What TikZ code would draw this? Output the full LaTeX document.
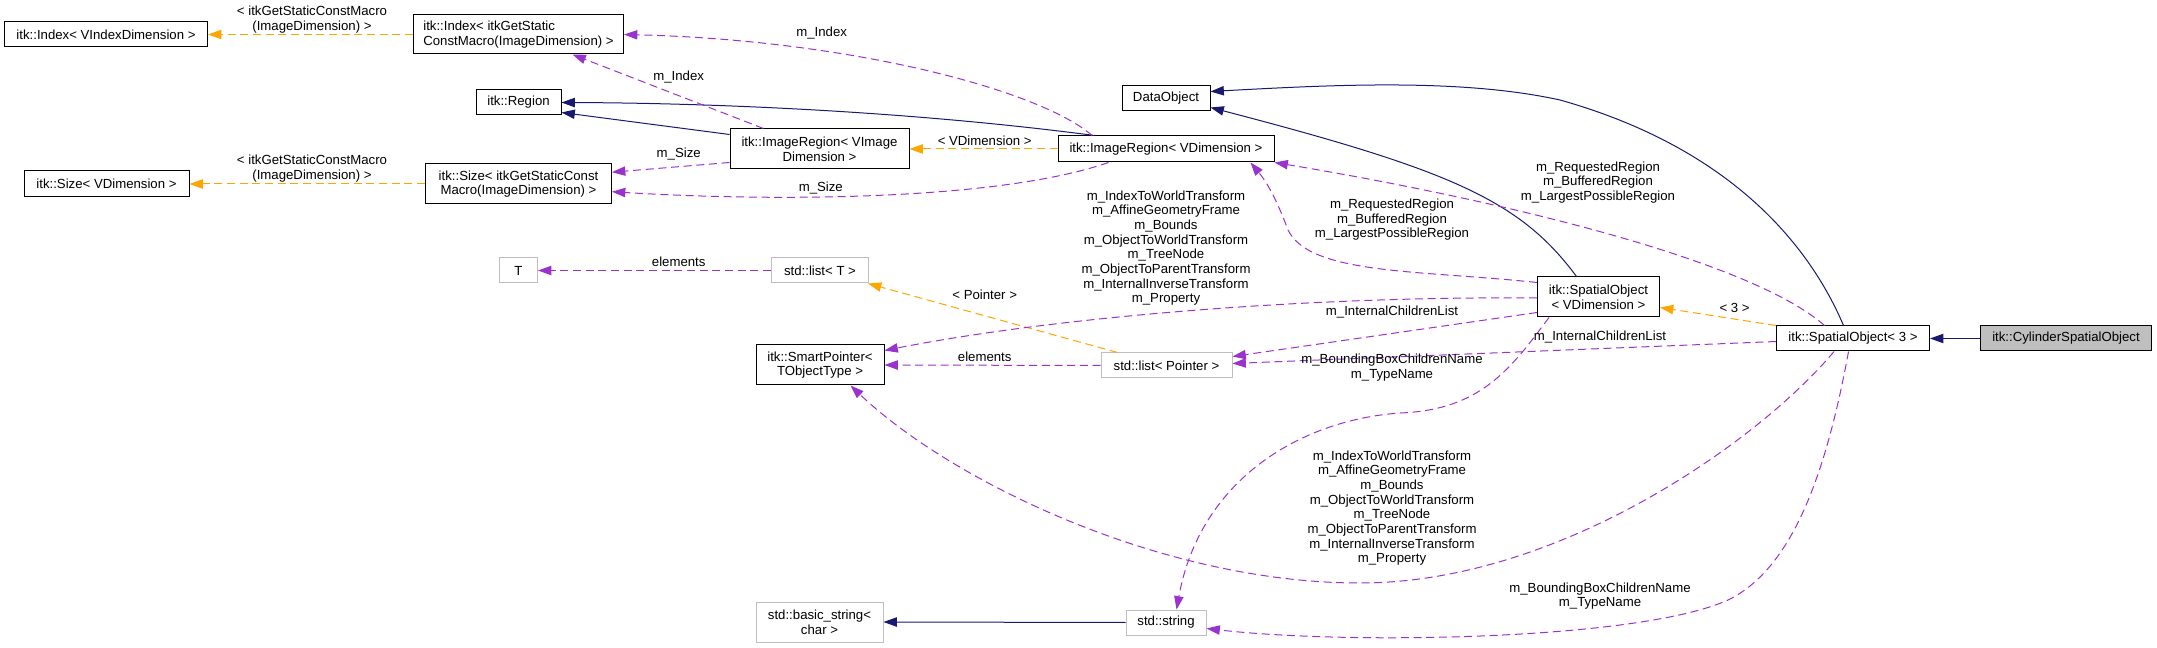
\documentclass[tikz,border=0pt]{standalone}
\usepackage{fontspec}
\setmainfont{Liberation Sans}
\usetikzlibrary{arrows.meta,calc}
\definecolor{navyc}{HTML}{191970}
\definecolor{orangec}{HTML}{FFA500}
\definecolor{purplec}{HTML}{9A32CD}
\definecolor{grayc}{HTML}{BFBFBF}
\begin{document}
\begin{tikzpicture}[x=0.75pt,y=-0.75pt,
  font=\fontsize{9.9}{11}\selectfont,
  box/.style={draw=black, line width=0.75pt, inner sep=0pt, align=center, fill=white},
  gbox/.style={box, draw=grayc},
  wh/.style 2 args={minimum width=#1*0.75pt, minimum height=#2*0.75pt},
  lbl/.style={inner sep=0pt, align=center},
  tip/.style={-{Triangle[length=10pt,width=7pt]}},
  inh/.style={draw=navyc, line width=0.75pt, tip},
  tmpl/.style={draw=orangec, line width=0.75pt, dash pattern=on 6pt off 3.5pt, tip},
  usee/.style={draw=purplec, line width=0.75pt, dash pattern=on 6pt off 3.5pt, tip}]
\useasboundingbox (0,0) rectangle (2157,648);

% nodes
\node[box, wh={203}{25}] (IdxV) at (106,34.5) {itk::Index< VIndexDimension >};
\node[box, wh={210}{39}, align=left] (IdxM) at (518.5,34.5) {itk::Index< itkGetStatic\\ConstMacro(ImageDimension) >};
\node[box, wh={85}{25}] (Region) at (518.5,102.5) {itk::Region};
\node[box, wh={165}{26}] (SizeV) at (106.5,184) {itk::Size< VDimension >};
\node[box, wh={186}{40}] (SizeM) at (518.5,184) {itk::Size< itkGetStaticConst\\Macro(ImageDimension) >};
\node[box, wh={179}{40}] (IRVI) at (819.5,149) {itk::ImageRegion< VImage\\Dimension >};
\node[box, wh={216}{26}] (IRV) at (1166,149) {itk::ImageRegion< VDimension >};
\node[box, wh={88}{25}] (DataObject) at (1166,98.5) {DataObject};
\node[gbox, wh={38}{25}] (T) at (518.5,270.5) {T};
\node[gbox, wh={97}{25}] (ListT) at (820,270.5) {std::list< T >};
\node[box, wh={128}{40}] (SP) at (820,365) {itk::SmartPointer<\\TObjectType >};
\node[gbox, wh={131}{25}] (ListP) at (1166.5,365.5) {std::list< Pointer >};
\node[box, wh={122}{40}] (SOV) at (1598.5,297) {itk::SpatialObject\\< VDimension >};
\node[box, wh={153}{25}] (SO3) at (1853,338.5) {itk::SpatialObject< 3 >};
\node[box, wh={171}{25}, fill=grayc] (Cyl) at (2066,338.5) {itk::CylinderSpatialObject};
\node[gbox, wh={127}{40}] (bstring) at (819.5,622) {std::basic\_string<\\char >};
\node[gbox, wh={80}{25}] (string) at (1166,622.5) {std::string};

% inheritance
\draw[inh] (Cyl.west) -- (SO3.east);
\draw[inh] ($(SO3.north west)+(67.5,0)$) .. controls (1805,235) and (1720,145) .. (1560,100) .. controls (1460,78) and (1330,85) .. ($(DataObject.north east)+(0,6)$);
\draw[inh] ($(SOV.north west)+(39.5,0)$) .. controls (1520,200) and (1450,170) .. ($(DataObject.south east)+(0,-4)$);
\draw[inh] ($(IRVI.north west)+(0,6)$) -- ($(Region.south east)+(0,-3)$);
\draw[inh] ($(IRV.north west)+(37,0)$) .. controls (900,110) and (700,103) .. (Region.east);
\draw[inh] (string.west) -- (bstring.east);

% template instances
\draw[tmpl] (IdxM.west) -- (IdxV.east);
\draw[tmpl] (SizeM.west) -- (SizeV.east);
\draw[tmpl] (IRV.west) -- (IRVI.east);
\draw[tmpl] ($(ListP.north west)+(17,0)$) -- ($(ListT.south east)+(-1,0)$);
\draw[tmpl] (SO3.north west) -- ($(SOV.south east)+(0,-10)$);

% usage
\draw[usee] ($(IRV.north west)+(34.6,0)$) .. controls (1040,90) and (850,40) .. (IdxM.east);
\draw[usee] ($(IRVI.north west)+(34,0)$) -- ($(IdxM.south west)+(159.5,0)$);
\draw[usee] ($(IRVI.south west)+(0,-7)$) -- ($(SizeM.north east)+(0,8.7)$);
\draw[usee] ($(IRV.south west)+(51,0)$) .. controls (1000,200) and (780,202) .. ($(SizeM.east)+(0,7.7)$);
\draw[usee] (ListT.west) -- (T.east);
\draw[usee] (ListP.west) -- (SP.east);
\draw[usee] ($(SOV.west)+(0,1)$) .. controls (1300,296) and (1050,318) .. ($(SP.north east)+(0,6)$);
\draw[usee] ($(SOV.north west)+(0,6)$) .. controls (1420,270) and (1310,275) .. (1288,230) .. controls (1275,195) and (1265,180) .. ($(IRV.south east)+(-24,0)$);
\draw[usee] ($(SOV.south west)+(0,-5)$) -- ($(ListP.north east)+(0,4)$);
\draw[usee] ($(SOV.south west)+(12,0)$) .. controls (1510,370) and (1480,410) .. (1400,413) .. controls (1300,420) and (1200,480) .. ($(string.north west)+(51,0)$);
\draw[usee] ($(SO3.north west)+(48.5,0)$) .. controls (1750,260) and (1500,200) .. (IRV.south east);
\draw[usee] ($(SO3.west)+(0,3)$) -- ($(ListP.east)+(0,-2)$);
\draw[usee] ($(SO3.south west)+(58,0)$) .. controls (1760,440) and (1560,583) .. (1360,583) .. controls (1160,583) and (950,480) .. ($(SP.south east)+(-34,0)$);
\draw[usee] ($(SO3.south west)+(72.5,0)$) .. controls (1825,480) and (1790,570) .. (1728,600) .. controls (1640,640) and (1350,645) .. ($(string.east)+(0,6)$);

% labels
\node[lbl] (l1) at (312,19.5) {< itkGetStaticConstMacro\\(ImageDimension) >};
\node[lbl] (l2) at (312,168.5) {< itkGetStaticConstMacro\\(ImageDimension) >};
\node[lbl] (l3) at (821.7,33) {m\_Index};
\node[lbl] (l4) at (678.7,77) {m\_Index};
\node[lbl] (l5) at (678.7,154) {m\_Size};
\node[lbl] (l6) at (820.8,188) {m\_Size};
\node[lbl] (l7) at (984.7,141) {< VDimension >};
\node[lbl] (l8) at (678.7,262) {elements};
\node[lbl] (l9) at (984.7,295) {< Pointer >};
\node[lbl] (l10) at (984.7,357) {elements};
\node[lbl] (l11) at (1166,248) {m\_IndexToWorldTransform\\m\_AffineGeometryFrame\\m\_Bounds\\m\_ObjectToWorldTransform\\m\_TreeNode\\m\_ObjectToParentTransform\\m\_InternalInverseTransform\\m\_Property};
\node[lbl] (l12) at (1392,219.7) {m\_RequestedRegion\\m\_BufferedRegion\\m\_LargestPossibleRegion};
\node[lbl] (l13) at (1392,312) {m\_InternalChildrenList};
\node[lbl] (l14) at (1392,367.5) {m\_BoundingBoxChildrenName\\m\_TypeName};
\node[lbl] (l15) at (1392,508) {m\_IndexToWorldTransform\\m\_AffineGeometryFrame\\m\_Bounds\\m\_ObjectToWorldTransform\\m\_TreeNode\\m\_ObjectToParentTransform\\m\_InternalInverseTransform\\m\_Property};
\node[lbl] (l16) at (1598,182.5) {m\_RequestedRegion\\m\_BufferedRegion\\m\_LargestPossibleRegion};
\node[lbl] (l17) at (1734.6,308) {< 3 >};
\node[lbl] (l18) at (1600,337) {m\_InternalChildrenList};
\node[lbl] (l19) at (1600,596) {m\_BoundingBoxChildrenName\\m\_TypeName};
\end{tikzpicture}
\end{document}
